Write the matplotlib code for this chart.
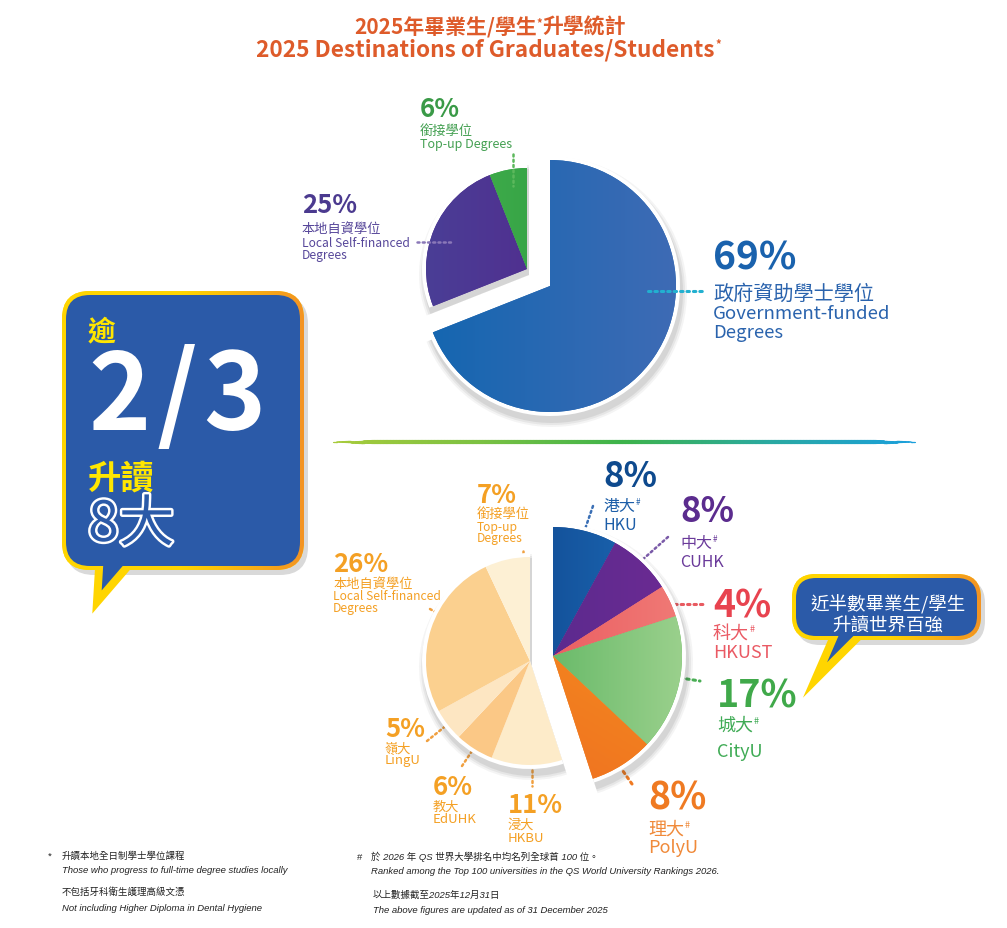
import numpy as np
import matplotlib
matplotlib.use("Agg")
import matplotlib.pyplot as plt
from matplotlib.patches import FancyBboxPatch, Polygon
from matplotlib.colors import LinearSegmentedColormap
from matplotlib.collections import LineCollection
import matplotlib.patheffects as pe
from matplotlib import font_manager

# ---------------- data ----------------
title_zh_a = "2025年畢業生/學生"
title_zh_b = "升學統計"
title_en = "2025 Destinations of Graduates/Students"

top_names_zh = ["政府資助學士學位", "本地自資學位", "銜接學位"]
top_names_en = [["Government-funded", "Degrees"], ["Local Self-financed", "Degrees"], ["Top-up Degrees"]]
top_values = [69, 25, 6]

uni_names_zh = ["港大", "中大", "科大", "城大", "理大"]
uni_names_en = ["HKU", "CUHK", "HKUST", "CityU", "PolyU"]
uni_values = [8, 8, 4, 17, 8]

other_names_zh = ["浸大", "教大", "嶺大", "本地自資學位", "銜接學位"]
other_names_en = [["HKBU"], ["EdUHK"], ["LingU"], ["Local Self-financed", "Degrees"], ["Top-up", "Degrees"]]
other_values = [11, 6, 5, 26, 7]

bubble_left = ["逾", "2/3", "升讀", "8大"]
bubble_right = ["近半數畢業生/學生", "升讀世界百強"]

notes_left = ["升讀本地全日制學士學位課程", "Those who progress to full-time degree studies locally",
              "不包括牙科衛生護理高級文憑", "Not including Higher Diploma in Dental Hygiene"]
notes_right = ["於 2026 年 QS 世界大學排名中均名列全球首 100 位。",
               "Ranked among the Top 100 universities in the QS World University Rankings 2026.",
               "以上數據截至2025年12月31日", "The above figures are updated as of 31 December 2025"]

# ---------------- setup ----------------
W, H = 1007, 929
FAM = ["Noto Sans CJK TC", "DejaVu Sans"]
plt.rcParams["font.family"] = FAM
_names = {f.name for f in font_manager.fontManager.ttflist}
NOTE_FAM = (["Liberation Sans Narrow"] if "Liberation Sans Narrow" in _names else ["Liberation Sans"]) + ["Noto Sans CJK TC"]

fig = plt.figure(figsize=(W / 100, H / 100), dpi=100)
ax = fig.add_axes([0, 0, 1, 1])
ax.set_xlim(0, W)
ax.set_ylim(0, H)
ax.axis("off")
R = fig.canvas.get_renderer()


def Y(p):
    return H - p


def rich(x, base, parts, ha="left", fam=None, style="normal", z=10, gap=0):
    arts = []
    total = 0
    for p in parts:
        s, size, color = p[0], p[1], p[2]
        weight = p[3] if len(p) > 3 else "normal"
        rise = p[4] if len(p) > 4 else 0
        t = ax.text(0, 0, s, fontsize=size, color=color, fontweight=weight, ha="left",
                    va="baseline", family=fam or FAM, fontstyle=style, zorder=z)
        w = t.get_window_extent(R).width
        arts.append((t, w, rise))
        total += w
    total += gap * (len(arts) - 1)
    cur = x - total / 2 if ha == "center" else x
    for t, w, rise in arts:
        t.set_position((cur, Y(base) + rise))
        cur += w + gap
    return arts


def dotted(p0, p1, color, lw=1.8):
    ax.plot([p0[0], p1[0]], [Y(p0[1]), Y(p1[1])], color=color, lw=lw,
            linestyle=(0, (0.8, 1.3)), solid_capstyle="round", dash_capstyle="round", zorder=9)


def group_pie(vals, lo, hi, center, r, color, z):
    parts = [sum(vals[:lo]), sum(vals[lo:hi]), sum(vals[hi:])]
    ax.pie(parts, colors=["none", color, "none"], startangle=90, counterclock=False,
           center=center, radius=r, wedgeprops=dict(linewidth=0, edgecolor="none", zorder=z))


def grad_fill(wedge, c1, c2, ang, center, r, z):
    n = 128
    u = np.linspace(-1, 1, n)
    X, Yg = np.meshgrid(u, u)
    t = X * np.cos(np.radians(ang)) + Yg * np.sin(np.radians(ang))
    t = (t - t.min()) / (t.max() - t.min())
    cm = LinearSegmentedColormap.from_list("g", [c1, c2])
    im = ax.imshow(t, cmap=cm, extent=[center[0] - r, center[0] + r, center[1] - r, center[1] + r],
                   origin="lower", aspect="auto", zorder=z, interpolation="bilinear")
    im.set_clip_path(wedge)


def draw_group(vals, lo, hi, center_px, r, colors, grads, z):
    c = (center_px[0], Y(center_px[1]))
    # soft shadow
    for dr, a in [(9, 0.05), (7, 0.07), (5, 0.09)]:
        group_pie(vals, lo, hi, (c[0] + 2, c[1] - 6), r + dr, (0.2, 0.2, 0.2, a), z)
    group_pie(vals, lo, hi, c, r + 4, "white", z + 0.5)
    cols = [colors[i] if lo <= i < hi else "none" for i in range(len(vals))]
    wedges, _ = ax.pie(vals, colors=cols, startangle=90, counterclock=False, center=c, radius=r,
                       wedgeprops=dict(linewidth=0.4, edgecolor="none", zorder=z + 1))
    for i, g in grads.items():
        if lo <= i < hi:
            grad_fill(wedges[i], g[0], g[1], g[2], c, r, z + 1.2)


def bubble(x0, y0, x1, y1, rad, tail, fill, bw, c_left, c_right, z):
    sh = FancyBboxPatch((x0 - bw + 4, Y(y1) - bw - 5), x1 - x0 + 2 * bw, y1 - y0 + 2 * bw,
                        boxstyle=f"round,pad=0,rounding_size={rad + bw}", fc=(0, 0, 0, 0.15),
                        ec="none", zorder=z - 0.5)
    ax.add_patch(sh)
    outer = FancyBboxPatch((x0 - bw, Y(y1) - bw), x1 - x0 + 2 * bw, y1 - y0 + 2 * bw,
                           boxstyle=f"round,pad=0,rounding_size={rad + bw}", fc=c_left, ec="none", zorder=z)
    ax.add_patch(outer)
    grad = np.linspace(0, 1, 256)[None, :]
    cm = LinearSegmentedColormap.from_list("b", [c_left, c_left, c_right])
    im = ax.imshow(grad, cmap=cm, extent=[x0 - bw, x1 + bw, Y(y1) - bw, Y(y0) + bw],
                   aspect="auto", zorder=z + 0.1, interpolation="bilinear")
    im.set_clip_path(outer)
    tp = Polygon([(tx, Y(ty)) for tx, ty in tail], closed=True, fc=fill, ec=c_left,
                 lw=bw * 2 * 0.72, joinstyle="miter", zorder=z + 0.2)
    ax.add_patch(tp)
    inner = FancyBboxPatch((x0, Y(y1)), x1 - x0, y1 - y0, boxstyle=f"round,pad=0,rounding_size={rad}",
                           fc=fill, ec="none", zorder=z + 0.3)
    ax.add_patch(inner)


# ---------------- title ----------------
TC = "#de5b2a"
rich(490, 34, [(title_zh_a, 15, TC, "bold"), ("*", 8, TC, "bold", 7), (title_zh_b, 15, TC, "bold")], ha="center")
rich(489, 56, [(title_en, 16.3, TC, "bold"), ("*", 8, TC, "bold", 8)], ha="center", gap=1)

# ---------------- top pie ----------------
top_colors = ["#2166b1", "#4e2c8c", "#3aa846"]
top_grads = {0: ("#1466b0", "#3e6bb5", 0), 1: ("#4a3e96", "#56238a", 0), 2: ("#44b14b", "#2c9a44", 0)}
draw_group(top_values, 0, 1, (550, 287), 126, top_colors, top_grads, 2)
draw_group(top_values, 1, 3, (527, 270), 101, top_colors, top_grads, 5)

# labels top
rich(713, 270, [(f"{top_values[0]}%", 28, "#1a62ad", "bold")])
rich(713, 300, [(top_names_zh[0], 14.5, "#2a63ad")])
rich(713, 319, [(top_names_en[0][0], 13.4, "#2a63ad")])
rich(713, 338, [(top_names_en[0][1], 13.4, "#2a63ad")])
dotted((648, 292), (702, 292), "#22b0d0", 2.2)

rich(302, 213, [(f"{top_values[1]}%", 18.5, "#4b3a8f", "bold")])
rich(302, 233, [(top_names_zh[1], 9.5, "#57479a")])
rich(302, 247, [(top_names_en[1][0], 8.7, "#57479a")])
rich(302, 259, [(top_names_en[1][1], 8.7, "#57479a")])
dotted((417, 243), (453, 243), "#8a78b8")

rich(420, 117, [(f"{top_values[2]}%", 18.5, "#3a9a47", "bold")])
rich(420, 135, [(top_names_zh[2], 9.5, "#44a052")])
rich(420, 148, [(top_names_en[2][0], 9.0, "#44a052")])
dotted((513, 155), (513, 187), "#5cb85c")

# ---------------- separator ----------------
xs = np.linspace(333, 915, 400)
pts = np.column_stack([xs, np.full_like(xs, Y(443))])
segs = np.stack([pts[:-1], pts[1:]], axis=1)
sep_cm = LinearSegmentedColormap.from_list("sep", ["#a8cb3b", "#7cc142", "#3db34a", "#2aa9a0", "#1a9fdc"])
mid = (xs[:-1] + xs[1:]) / 2
lws = 0.8 + 2.2 * np.clip(np.minimum(mid - 333, 915 - mid) / 40, 0, 1)
ax.add_collection(LineCollection(segs, colors=sep_cm(np.linspace(0, 1, len(segs))), linewidths=lws,
                                 capstyle="round", zorder=3))

# ---------------- bottom pie ----------------
all_vals = uni_values + other_values
bot_colors = ["#114a95", "#5a2a8e", "#ea5a60", "#5cb553", "#f07e1f",
              "#fdebc9", "#fbc886", "#fde6c2", "#fbd08f", "#fdf0d4"]
bot_grads = {0: ("#0a3a80", "#1e6cb8", 0), 1: ("#4b2a8a", "#6d2b93", 0), 2: ("#e6454f", "#f07a76", 0),
             3: ("#3aa548", "#9ad08c", 0), 4: ("#ee6a22", "#f7981c", 60)}
nu = len(uni_values)
draw_group(all_vals, nu, len(all_vals), (530, 662), 104, bot_colors, bot_grads, 12)
draw_group(all_vals, 0, nu, (553, 657), 129, bot_colors, bot_grads, 16)

# university labels: (x, pct baseline, zh baseline, en baseline, pct size, txt size, pct color, txt color)
uni_lay = [
    (603, 487, 511, 530, 25, 11.5, "#0e4a8e", "#1d5ea8"),
    (680, 522, 548, 567, 25, 11.5, "#5b2c8e", "#6a3a9a"),
    (713, 617, 639, 658, 27, 13, "#e8434f", "#ea5a64"),
    (717, 708, 731, 757, 27, 13, "#40a94a", "#3fab55"),
    (648, 810, 835, 853, 27, 13, "#ef7a22", "#f08a3a"),
]
for i, (x, bp, bz, be, sp, st, cp, ct) in enumerate(uni_lay):
    rich(x, bp, [(f"{uni_values[i]}%", sp, cp, "bold")])
    rich(x, bz, [(uni_names_zh[i], st, ct), ("#", st * 0.5, ct, "normal", st * 0.55)], gap=1)
    rich(x, be, [(uni_names_en[i], st, ct)])
dotted((593, 507), (573, 565), "#3a6fb5")
dotted((668, 538), (623, 578), "#7a5aa8")
dotted((655, 605), (703, 605), "#e85a60", 2.2)
dotted((655, 675), (700, 682), "#4aae55", 2.2)
dotted((616, 762), (632, 785), "#ef7a22", 2.2)

OC = "#f4a024"
other_lay = [
    (508, 813, [829, 842]),
    (433, 795, [811, 823]),
    (385, 737, [753, 764]),
    (333, 572, [588, 600, 612]),
    (477, 503, [518, 531, 542]),
]
for i, (x, bp, bl) in enumerate(other_lay):
    rich(x, bp, [(f"{other_values[i]}%", 18.5, OC, "bold")])
    lines = [other_names_zh[i]] + other_names_en[i]
    for k, (s, b) in enumerate(zip(lines, bl)):
        size = 9.5 if (k == 0 or len(s) < 6) else 8.7
        rich(x, b, [(s, size, OC)])
dotted((523, 552), (523, 590), "#f0a040")
dotted((430, 610), (470, 633), "#f0a040")
dotted((427, 742), (458, 717), "#f0a040")
dotted((462, 767), (484, 734), "#f0a040")
dotted((532, 750), (532, 787), "#f0a040")

# ---------------- bubbles ----------------
BLUE = "#2b5aa8"
bubble(66, 296, 300, 567, 24, [(100, 553), (97, 603), (140, 553)], BLUE, 4, "#ffd500", "#f39323", 20)
rich(88, 340, [(bubble_left[0], 20, "#ffe600", "bold")], z=25)
rich(88, 430, [(c, 76, "white", "bold") for c in bubble_left[1]], z=25, gap=6)
rich(88, 489, [(bubble_left[2], 24, "#ffe600", "bold")], z=25)
arts = rich(88, 542, [(bubble_left[3], 40, BLUE, "normal")], z=25)
for t, _, _ in arts:
    t.set_path_effects([pe.withStroke(linewidth=3.5, foreground="white")])

bubble(796, 579, 977, 637, 20, [(838, 628), (815, 681), (868, 628)], BLUE, 4, "#ffd500", "#f39323", 20)
rich(888, 610, [(bubble_right[0], 13.3, "white")], ha="center", z=25)
rich(888, 631, [(bubble_right[1], 13.3, "white")], ha="center", z=25)

# ---------------- footnotes ----------------
NS = 6.8
rich(48, 859, [("*", NS, "#222222")], fam=NOTE_FAM)
for s, b in zip(notes_left, [859, 873, 895, 911]):
    rich(62, b, [(s, NS, "#222222")], fam=NOTE_FAM, style="italic")
rich(357, 860, [("#", NS, "#222222")], fam=NOTE_FAM)
for s, b, x in zip(notes_right, [860, 874, 898, 913], [371, 371, 373, 373]):
    rich(x, b, [(s, NS, "#222222")], fam=NOTE_FAM, style="italic")

ax.set_xlim(0, W)
ax.set_ylim(0, H)
ax.set_aspect("auto")
ax.axis("off")
fig.savefig("out.png", dpi=100, facecolor="white")
